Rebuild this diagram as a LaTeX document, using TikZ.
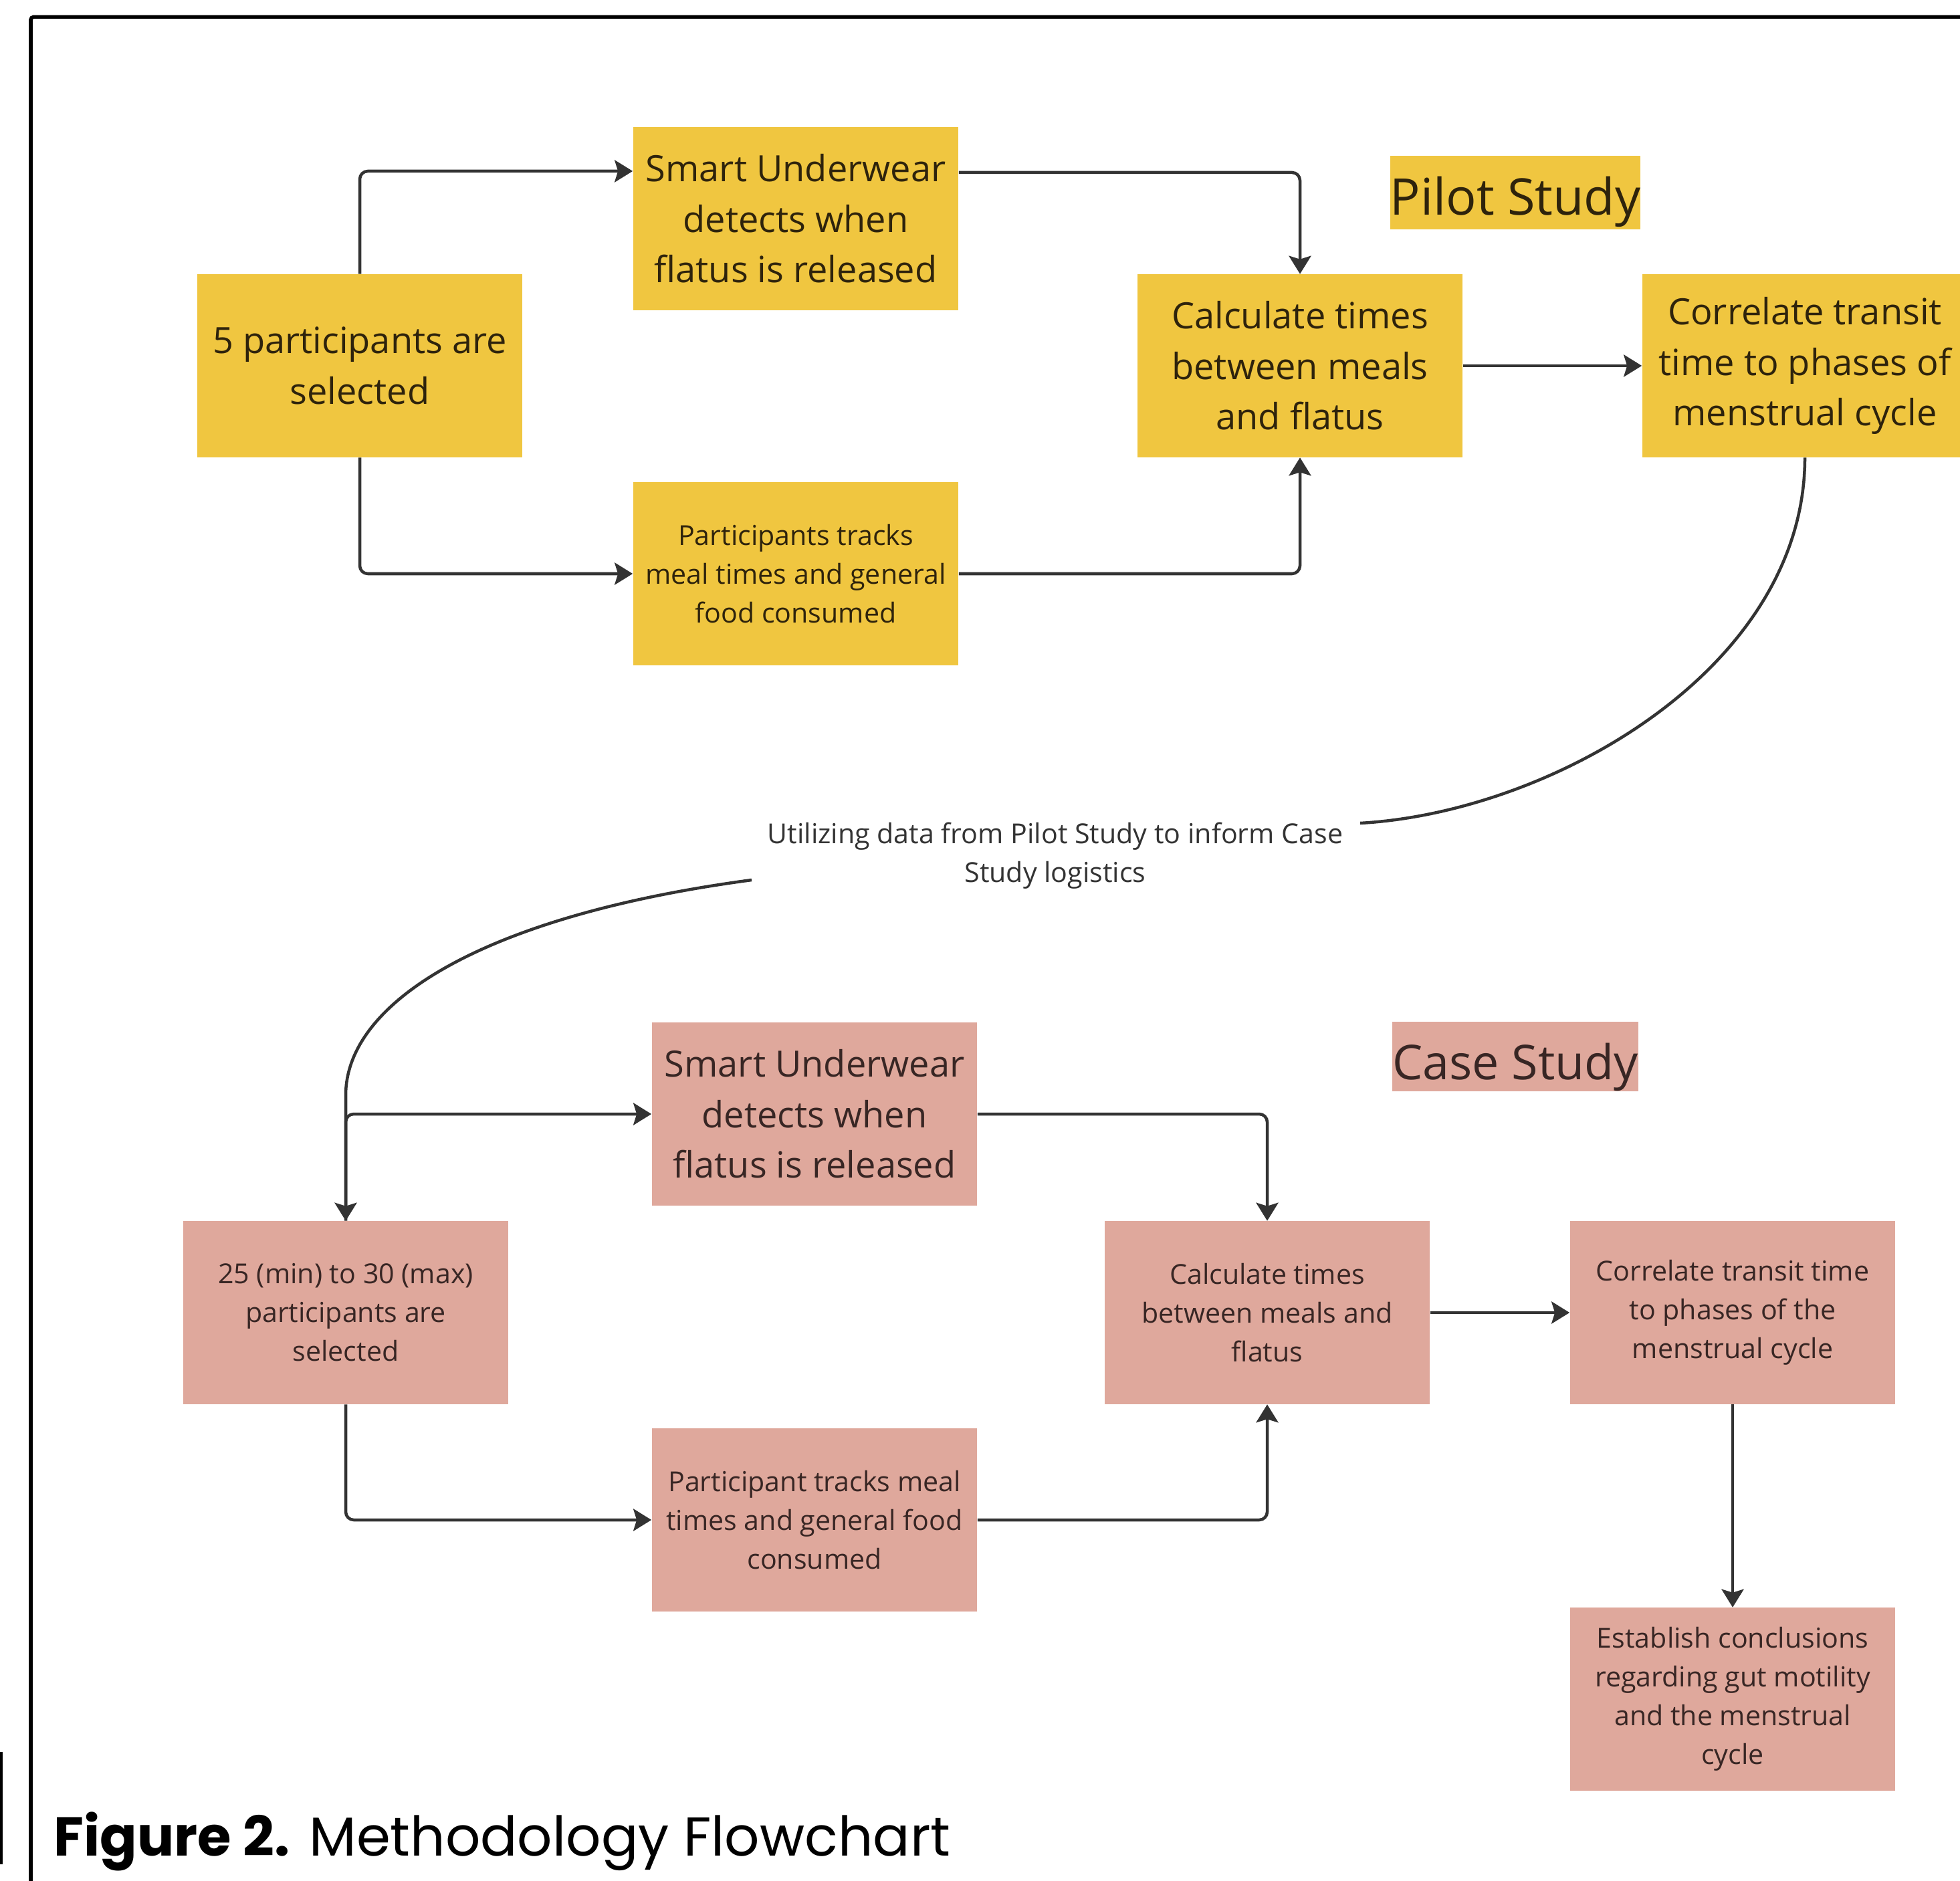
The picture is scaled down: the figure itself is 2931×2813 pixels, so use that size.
\documentclass[tikz,border=0pt]{standalone}
\usepackage{fontspec}
\setmainfont{Open Sans}
\newfontfamily\capfont{Poppins}
\usetikzlibrary{arrows.meta}
\definecolor{pyellow}{HTML}{F0C640}
\definecolor{ppink}{HTML}{DFA89C}
\definecolor{ytext}{HTML}{2E230C}
\definecolor{ptext}{HTML}{382624}
\definecolor{lnk}{HTML}{333333}
\begin{document}
\begin{tikzpicture}[x=0.01cm,y=-0.01cm,
  box/.style={minimum width=4.86cm, minimum height=2.73cm, inner sep=0pt, align=center},
  pbox/.style={box, fill=pyellow, text=ytext},
  cbox/.style={box, fill=ppink, text=ptext},
  big/.style={font=\fontsize{15.4}{21.5}\selectfont},
  small/.style={font=\fontsize{11.7}{16.5}\selectfont},
  title/.style={inner sep=0pt, text height=18.8pt, text depth=0pt},
  link/.style={draw=lnk, line width=0.045cm, rounded corners=0.12cm},
  conn/.style={link, -{Stealth[length=0.27cm,width=0.33cm,inset=0.05cm]}},
]
\useasboundingbox (0,0) rectangle (2931,2813);
\clip (0,0) rectangle (2931,2813);
\fill[white] (0,0) rectangle (2931,2813);

% frame
\draw[line width=0.055cm, black, rounded corners=0.04cm] (46,2850) -- (46,25.5) -- (2960,25.5);
\draw[line width=0.03cm, black] (2,2620) -- (2,2788);

% pilot study
\node[pbox,big] (p1) at (538,547) {5 participants are\\selected};
\node[pbox,big] (p2) at (1190,327) {Smart Underwear\\detects when\\flatus is released};
\node[pbox,small] (p3) at (1190,858) {Participants tracks\\meal times and general\\food consumed};
\node[pbox,big] (p4) at (1944,547) {Calculate times\\between meals\\and flatus};
\node[pbox,big] (p5) at (2699,547) {Correlate transit\\time to phases of\\menstrual cycle};
\node[title, fill=pyellow, text=ytext, minimum width=3.74cm, minimum height=1.09cm, font=\fontsize{21.5}{26}\selectfont] (pl) at (2266,288) {Pilot Study};

% case study
\node[cbox,small] (c1) at (517,1963) {25 (min) to 30 (max)\\participants are\\selected};
\node[cbox,big] (c2) at (1218,1666) {Smart Underwear\\detects when\\flatus is released};
\node[cbox,small] (c3) at (1218,2273) {Participant tracks meal\\times and general food\\consumed};
\node[cbox,small] (c4) at (1895,1963) {Calculate times\\between meals and\\flatus};
\node[cbox,small] (c5) at (2591,1963) {Correlate transit time\\to phases of the\\menstrual cycle};
\node[cbox,small] (c6) at (2591,2541) {Establish conclusions\\regarding gut motility\\and the menstrual\\cycle};
\node[title, fill=ppink, text=ptext, minimum width=3.68cm, minimum height=1.03cm, font=\fontsize{20.4}{25}\selectfont, text height=19.6pt] (cl) at (2266,1580) {Case Study};

% middle label
\node[small, text=lnk, align=center, inner sep=0pt] (mid) at (1578,1280) {Utilizing data from Pilot Study to inform Case\\Study logistics};
\coordinate (m1) at (2034,1231);
\coordinate (m2) at (1124,1316);

% pilot connectors
\draw[conn] (p1.north) |- ([yshift=0.71cm]p2.west);
\draw[conn] ([yshift=0.69cm]p2.east) -| (p4.north);
\draw[conn] (p1.south) |- (p3.west);
\draw[conn] (p3.east) -| (p4.south);
\draw[conn] (p4.east) -- (p5.west);

% curves
\draw[link] (p5.south) .. controls (2699,1000) and (2320,1215) .. (m1);
\draw[conn] (m2) .. controls (720,1370) and (517,1500) .. (517,1650) -- (c1.north);

% case connectors
\draw[conn] (c1.north) |- (c2.west);
\draw[conn] (c2.east) -| (c4.north);
\draw[conn] (c1.south) |- (c3.west);
\draw[conn] (c3.east) -| (c4.south);
\draw[conn] (c4.east) -- (c5.west);
\draw[conn] (c5.south) -- (c6.north);

% caption
\node[anchor=base west, inner sep=0pt, font=\capfont\fontsize{23.3}{28}\selectfont] (cap) at (80,2775) {\textbf{Figure 2.} Methodology Flowchart};
\end{tikzpicture}
\end{document}
